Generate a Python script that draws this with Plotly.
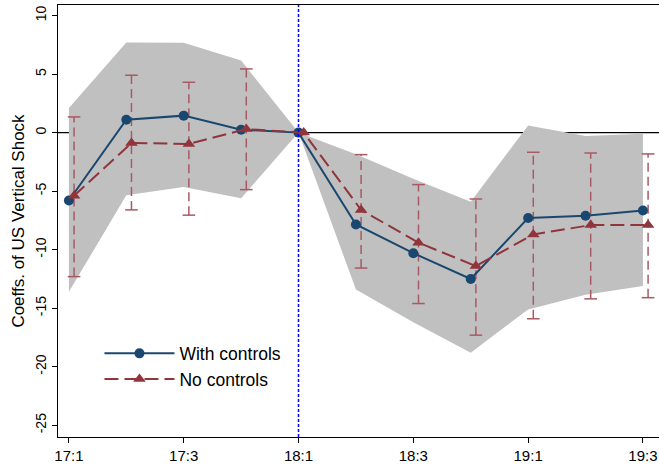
import plotly.graph_objects as go

quarters = ["17:1", "17:2", "17:3", "17:4", "18:1", "18:2", "18:3", "18:4", "19:1", "19:2", "19:3"]
tick_labels = ["17:1", "17:3", "18:1", "18:3", "19:1", "19:3"]
y_ticks = [10, 5, 0, -5, -10, -15, -20, -25]

with_controls = [-5.8, 1.1, 1.45, 0.25, 0.0, -7.85, -10.3, -12.5, -7.3, -7.1, -6.65]
with_lo = [-13.6, -5.36, -4.64, -5.6, 0.0, -13.4, -16.2, -18.8, -15.1, -13.85, -13.1]
with_hi = [2.1, 7.7, 7.67, 6.15, 0.0, -1.85, -3.95, -5.9, 0.6, -0.3, -0.1]

no_controls = [-5.4, -0.88, -0.97, 0.3, 0.0, -6.6, -9.4, -11.4, -8.7, -7.9, -7.9]
no_lo = [-12.3, -6.6, -7.05, -4.87, None, -11.57, -14.6, -17.3, -15.9, -14.2, -14.1]
no_hi = [1.34, 4.9, 4.3, 5.44, None, -1.88, -4.44, -5.67, -1.68, -1.74, -1.82]

series_shift = 0.09  # the "No controls" series is drawn slightly to the right
event_quarter = "18:1"

BLUE = "#1a476f"
RED = "#90353b"
RED_CI = "#a85a63"
GRAY = "#c0c0c0"
FONT = "Liberation Sans, Arial, sans-serif"

xi = list(range(len(quarters)))
xr = [i + series_shift for i in xi]

fig = go.Figure()

# confidence band (with controls)
fig.add_trace(go.Scatter(x=xi, y=with_lo, mode="lines", line=dict(width=0), showlegend=False, hoverinfo="skip"))
fig.add_trace(go.Scatter(x=xi, y=with_hi, mode="lines", line=dict(width=0), fill="tonexty",
                         fillcolor=GRAY, showlegend=False, hoverinfo="skip"))

# dashed error bars (no controls)
ex, ey = [], []
cx, cy = [], []
for x, lo, hi in zip(xr, no_lo, no_hi):
    if lo is None:
        continue
    ex += [x, x, None]
    ey += [lo, hi, None]
    cx += [x, x]
    cy += [lo, hi]
fig.add_trace(go.Scatter(x=ex, y=ey, mode="lines", line=dict(color=RED_CI, width=1.5, dash="9px,5px"),
                         showlegend=False, hoverinfo="skip"))
fig.add_trace(go.Scatter(x=cx, y=cy, mode="markers",
                         marker=dict(symbol="line-ew", size=9, line=dict(color=RED_CI, width=1.5)),
                         showlegend=False, hoverinfo="skip"))

fig.add_trace(go.Scatter(x=xi, y=with_controls, mode="lines+markers", name="With controls",
                         line=dict(color=BLUE, width=2), marker=dict(symbol="circle", size=10, color=BLUE)))
fig.add_trace(go.Scatter(x=xr, y=no_controls, mode="lines+markers", name="No controls",
                         line=dict(color=RED, width=2, dash="14px,6px"),
                         marker=dict(symbol="triangle-up", size=11, color=RED)))

ev = quarters.index(event_quarter)
fig.add_shape(type="line", xref="paper", x0=0, x1=1, yref="y", y0=0, y1=0,
              line=dict(color="black", width=1.3), layer="below")
fig.add_shape(type="line", xref="x", x0=ev, x1=ev, yref="paper", y0=0, y1=1,
              line=dict(color="#0000ff", width=1.5, dash="3px,2px"), layer="above")

fig.update_layout(
    width=659, height=464,
    margin=dict(l=58, r=0, t=5, b=27),
    plot_bgcolor="white", paper_bgcolor="white",
    font=dict(family=FONT, size=14, color="black"),
    showlegend=True,
    legend=dict(x=0.069, y=0.235, xanchor="left", yanchor="top", bgcolor="rgba(0,0,0,0)",
                font=dict(size=17.5), itemwidth=70, tracegroupgap=0, traceorder="normal"),
)
fig.update_xaxes(
    range=[-0.19, 10.28],
    tickmode="array",
    tickvals=[quarters.index(t) for t in tick_labels],
    ticktext=tick_labels,
    ticks="outside", ticklen=5, tickcolor="black",
    showline=True, linecolor="black", linewidth=1.3, mirror=True,
    showgrid=False, zeroline=False, automargin=False,
    tickfont=dict(size=15),
)
fig.update_yaxes(
    range=[-26, 10.9],
    tickmode="array",
    tickvals=y_ticks,
    ticktext=[str(v) for v in y_ticks],
    ticks="outside", ticklen=5, tickcolor="black",
    tickangle=-90,
    showline=True, linecolor="black", linewidth=1.3,
    showgrid=False, zeroline=False, automargin=False,
    tickfont=dict(size=14),
    title=dict(text="Coeffs. of US Vertical Shock", font=dict(size=17), standoff=4),
)

fig.write_html("out.html", config={"displayModeBar": False},
               post_script="document.body.style.margin='0';document.body.style.padding='0';")
